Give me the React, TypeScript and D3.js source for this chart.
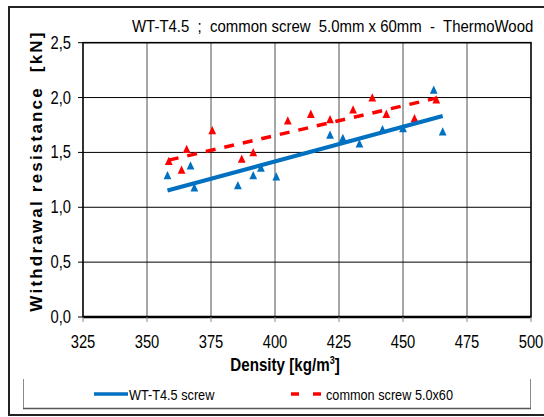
import React from "react";
import * as d3 from "d3";

// readings from the chart
const blueDensity = [358, 367, 368.5, 385.5, 391.5, 394.5, 400.5, 421.5, 426.5, 433, 442, 450, 462, 465.5];
const blueForce = [1.28, 1.37, 1.17, 1.19, 1.28, 1.35, 1.27, 1.65, 1.62, 1.57, 1.7, 1.71, 2.06, 1.68];
const redDensity = [358.5, 363.5, 365.5, 375.5, 387, 391.5, 405, 414, 421.5, 430.5, 438, 443.5, 454.5, 463];
const redForce = [1.41, 1.33, 1.52, 1.69, 1.43, 1.49, 1.78, 1.84, 1.79, 1.88, 1.99, 1.84, 1.8, 1.97];

const xTicks = [325, 350, 375, 400, 425, 450, 475, 500];
const yTicks = [0, 0.5, 1, 1.5, 2, 2.5];

const seriesNames = ["WT-T4.5 screw", "common screw 5.0x60"];
const title = "WT-T4.5  ;  common screw  5.0mm x 60mm  -  ThermoWood";

const BLUE = "#0070C0";
const RED = "#FF0000";
const SANS = "'Liberation Sans', Arial, sans-serif";
const SQ = 0.82; // the chart's text is a narrow face

const fit = (xs: number[], ys: number[]) => {
  const mx = d3.mean(xs) as number;
  const my = d3.mean(ys) as number;
  let sxy = 0;
  let sxx = 0;
  xs.forEach((x, i) => {
    sxy += (x - mx) * (ys[i] - my);
    sxx += (x - mx) * (x - mx);
  });
  const b = sxy / sxx;
  const a = my - b * mx;
  const [x0, x1] = d3.extent(xs) as [number, number];
  return [
    [x0, a + b * x0],
    [x1, a + b * x1],
  ];
};

const Narrow = ({ x, y, size, anchor = "start", bold = false, sx = SQ, children }: any) => (
  <text
    transform={`translate(${x},${y}) scale(${sx},1)`}
    textAnchor={anchor}
    fontFamily={SANS}
    fontSize={size}
    fontWeight={bold ? "bold" : "normal"}
    fill="#000"
    style={{ whiteSpace: "pre" }}
  >
    {children}
  </text>
);

const App = () => {
  const x = d3.scaleLinear().domain([325, 500]).range([83, 531]);
  const y = d3.scaleLinear().domain([0, 2.5]).range([317, 42.7]);
  const line = d3.line<number[]>().x((d) => x(d[0])).y((d) => y(d[1]));
  const tri = d3.symbol(d3.symbolTriangle, 36)() as string;
  const fmt = (v: number) => d3.format(".1f")(v).replace(".", ",");

  const blueFit = fit(blueDensity, blueForce);
  const redFit = fit(redDensity, redForce);

  return (
    <svg
      width={544}
      height={417}
      style={{ position: "absolute", left: 0, top: 0, display: "block", background: "#fff" }}
    >
      <rect x={9} y={7} width={545} height={408} fill="#fff" stroke="#222" strokeWidth={2} />

      <Narrow x={132} y={32} size={16} sx={0.935}>
        {title}
      </Narrow>

      {/* grid */}
      {xTicks.slice(1, -1).map((t) => (
        <line key={"gx" + t} x1={x(t)} x2={x(t)} y1={y(2.5)} y2={y(0)} stroke="#8a8a8a" strokeWidth={1.5} />
      ))}
      {yTicks.slice(1, -1).map((t) => (
        <line key={"gy" + t} x1={x(325)} x2={x(500)} y1={y(t)} y2={y(t)} stroke="#000" strokeWidth={1} />
      ))}
      <rect x={x(325)} y={y(2.5)} width={x(500) - x(325)} height={y(0) - y(2.5)} fill="none" stroke="#000" strokeWidth={1.6} />
      <line x1={x(325)} x2={x(500)} y1={y(0)} y2={y(0)} stroke="#000" strokeWidth={2.6} />

      {/* ticks */}
      {yTicks.map((t) => (
        <g key={"ty" + t}>
          <line x1={x(325) - 5} x2={x(325)} y1={y(t)} y2={y(t)} stroke="#000" strokeWidth={1} />
          <Narrow x={71} y={y(t) + 6} size={18} anchor="end">
            {fmt(t)}
          </Narrow>
        </g>
      ))}
      {xTicks.map((t) => (
        <g key={"tx" + t}>
          <line x1={x(t)} x2={x(t)} y1={y(0)} y2={y(0) + 5} stroke="#888" strokeWidth={1} />
          <Narrow x={x(t)} y={348} size={18} anchor="middle">
            {t}
          </Narrow>
        </g>
      ))}

      {/* axis titles */}
      <text
        transform={`translate(42,171) rotate(-90)`}
        textAnchor="middle"
        fontFamily={SANS}
        fontWeight="bold"
        fontSize={17}
        letterSpacing={2.2}
        fill="#000"
        style={{ whiteSpace: "pre" }}
      >
        {"Withdrawal resistance  [kN]"}
      </text>
      <Narrow x={285} y={371} size={18.5} anchor="middle" bold>
        Density [kg/m<tspan fontSize={11} dy={-7}>3</tspan>
        <tspan dy={7}>]</tspan>
      </Narrow>

      {/* markers */}
      {blueDensity.map((d, i) => (
        <path key={"b" + i} d={tri} transform={`translate(${x(d)},${y(blueForce[i])}) scale(0.85,1.05)`} fill={BLUE} />
      ))}
      {redDensity.map((d, i) => (
        <path key={"r" + i} d={tri} transform={`translate(${x(d)},${y(redForce[i])}) scale(0.85,1.05)`} fill={RED} />
      ))}

      {/* trend lines */}
      <path d={line(blueFit) as string} fill="none" stroke={BLUE} strokeWidth={4} />
      <path d={line(redFit) as string} fill="none" stroke={RED} strokeWidth={3.5} strokeDasharray="10,9" />

      {/* legend */}
      <path d="M23.5,379V408.5H530.5V379" fill="none" stroke="#8a8a8a" strokeWidth={1} />
      <line x1={23} x2={531} y1={408.5} y2={408.5} stroke="#555" strokeWidth={1.5} />
      <line x1={94} x2={128} y1={394} y2={394} stroke={BLUE} strokeWidth={3.5} />
      <Narrow x={129} y={399.5} size={15.5}>
        {seriesNames[0]}
      </Narrow>
      <line x1={291} x2={324} y1={394} y2={394} stroke={RED} strokeWidth={3.5} strokeDasharray="8,14" />
      <Narrow x={326} y={399.5} size={15.5}>
        {seriesNames[1]}
      </Narrow>
    </svg>
  );
};

export default App;
